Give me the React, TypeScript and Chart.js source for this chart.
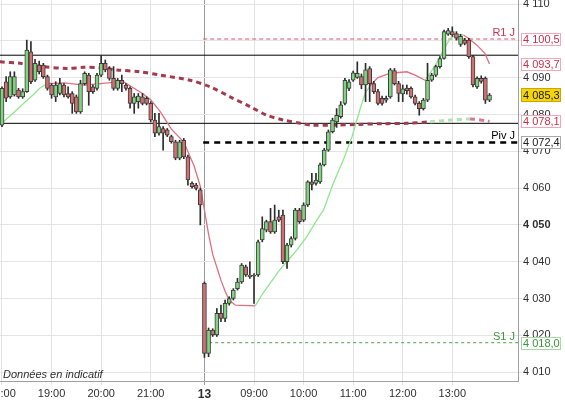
import React, { useEffect, useRef } from 'react';
import { Chart, registerables } from 'chart.js';

Chart.register(...registerables);

// ---- Candles (5-minute bars, index 0 = 18:00 on day 12, index 49 = 08:00 on day 13) ----
const opens = [
  4077.1, 4088.9, 4084.8, 4085.3, 4086.6, 4084.8, 4086.2, 4097.0, 4089.3, 4093.4,
  4093.4, 4090.3, 4088.0, 4084.8, 4085.7, 4088.0, 4085.7, 4085.7, 4084.8, 4080.7,
  4088.4, 4090.7, 4087.5, 4087.1, 4090.7, 4093.9, 4092.5, 4089.8, 4087.1, 4089.3,
  4088.0, 4087.1, 4083.0, 4083.5, 4084.8, 4084.4, 4083.0, 4078.5, 4074.9, 4076.2,
  4075.8, 4074.0, 4072.6, 4068.1, 4073.0, 4068.5, 4061.3, 4060.8, 4059.5, 4034.1,
  4015.1, 4021.4, 4020.1, 4026.0, 4024.6, 4028.7, 4030.0, 4032.7, 4034.5, 4038.6,
  4035.9, 4036.4, 4036.4, 4045.9, 4048.6, 4050.9, 4048.1, 4052.2, 4052.7, 4040.0,
  4044.5, 4046.3, 4054.0, 4051.3, 4055.4, 4061.7, 4061.3, 4061.7, 4066.3, 4070.3,
  4075.3, 4078.0, 4079.4, 4083.0, 4087.1, 4089.3, 4090.1, 4090.3, 4088.0, 4092.5,
  4088.4, 4086.2, 4084.4, 4083.9, 4084.8, 4091.9, 4088.4, 4085.6, 4087.2, 4087.1,
  4084.8, 4083.0, 4081.6, 4083.9, 4089.3, 4090.7, 4093.0, 4095.2, 4101.8, 4102.5,
  4102.0, 4099.0, 4100.2, 4100.2, 4095.7, 4087.5, 4089.8, 4089.8, 4083.9,
];
const highs = [
  4087.5, 4090.3, 4091.6, 4091.6, 4087.1, 4087.0, 4100.2, 4099.8, 4095.0, 4094.5,
  4093.9, 4090.7, 4088.4, 4088.9, 4089.8, 4088.4, 4087.5, 4086.2, 4085.3, 4089.3,
  4091.6, 4091.2, 4088.0, 4091.2, 4096.1, 4094.8, 4093.0, 4093.0, 4089.8, 4090.7,
  4088.4, 4087.5, 4085.7, 4085.7, 4085.7, 4084.8, 4083.5, 4080.3, 4080.3, 4076.7,
  4076.2, 4074.4, 4073.0, 4073.0, 4073.5, 4069.0, 4061.7, 4061.3, 4060.0, 4034.5,
  4022.0, 4021.8, 4027.3, 4028.2, 4029.6, 4030.5, 4032.7, 4035.5, 4039.5, 4039.1,
  4040.0, 4036.8, 4045.9, 4052.2, 4051.3, 4054.5, 4055.4, 4054.0, 4054.0, 4045.0,
  4046.8, 4054.5, 4054.5, 4056.0, 4062.0, 4064.0, 4064.0, 4066.8, 4070.8, 4075.8,
  4079.0, 4081.6, 4083.5, 4089.8, 4089.5, 4091.8, 4094.3, 4091.0, 4093.9, 4093.0,
  4089.0, 4086.8, 4085.0, 4085.0, 4092.5, 4092.5, 4089.0, 4088.0, 4088.0, 4087.5,
  4085.3, 4083.5, 4084.4, 4093.9, 4091.2, 4093.4, 4095.7, 4102.9, 4103.4, 4103.8,
  4102.5, 4101.8, 4100.7, 4100.7, 4096.1, 4090.2, 4090.5, 4090.2, 4085.7,
];
const lows = [
  4076.7, 4083.5, 4084.4, 4085.0, 4084.4, 4084.4, 4086.0, 4088.4, 4089.0, 4091.0,
  4089.8, 4086.6, 4084.4, 4083.5, 4085.3, 4084.8, 4084.4, 4080.3, 4080.3, 4080.3,
  4088.0, 4082.5, 4085.7, 4086.6, 4090.3, 4091.6, 4089.3, 4086.6, 4086.6, 4086.2,
  4086.6, 4081.7, 4080.3, 4081.7, 4082.6, 4082.6, 4078.0, 4074.0, 4074.4, 4070.3,
  4074.0, 4072.2, 4067.7, 4067.7, 4068.0, 4060.8, 4060.0, 4059.5, 4050.0, 4014.0,
  4014.2, 4019.7, 4019.7, 4023.7, 4023.7, 4028.2, 4029.6, 4032.3, 4034.1, 4036.0,
  4035.5, 4028.7, 4036.0, 4045.4, 4048.1, 4047.7, 4047.7, 4050.9, 4039.5, 4038.2,
  4044.0, 4045.9, 4050.4, 4050.9, 4055.0, 4059.5, 4060.8, 4061.3, 4066.0, 4070.0,
  4075.0, 4076.5, 4079.0, 4082.6, 4086.5, 4089.0, 4089.8, 4087.0, 4083.5, 4083.5,
  4085.7, 4082.6, 4082.5, 4083.3, 4084.4, 4088.0, 4083.5, 4083.5, 4085.5, 4084.4,
  4082.6, 4079.8, 4081.2, 4083.5, 4089.0, 4090.3, 4092.6, 4095.0, 4101.5, 4101.2,
  4100.2, 4098.5, 4098.9, 4095.2, 4087.5, 4087.1, 4088.5, 4083.0, 4083.5,
];
const closes = [
  4087.1, 4084.4, 4090.3, 4090.3, 4084.8, 4086.2, 4097.5, 4088.9, 4093.9, 4091.6,
  4090.3, 4087.1, 4085.3, 4088.0, 4088.4, 4085.3, 4084.8, 4083.0, 4080.7, 4088.4,
  4091.2, 4086.2, 4086.2, 4090.7, 4093.9, 4092.1, 4089.8, 4087.1, 4089.3, 4088.4,
  4087.1, 4083.0, 4084.8, 4085.0, 4083.0, 4083.0, 4078.5, 4074.9, 4076.7, 4074.9,
  4074.4, 4072.6, 4068.1, 4072.6, 4068.5, 4062.2, 4060.4, 4059.9, 4055.4, 4015.1,
  4021.4, 4020.1, 4026.0, 4024.6, 4028.7, 4030.0, 4032.3, 4034.5, 4039.1, 4036.4,
  4036.4, 4036.1, 4045.4, 4049.0, 4050.9, 4048.1, 4051.3, 4051.3, 4040.0, 4044.5,
  4046.3, 4054.0, 4050.9, 4055.4, 4061.7, 4061.0, 4062.2, 4066.3, 4070.3, 4075.3,
  4078.5, 4079.8, 4082.6, 4089.3, 4088.9, 4091.3, 4091.2, 4088.0, 4092.1, 4088.4,
  4086.2, 4083.0, 4083.0, 4084.4, 4092.1, 4088.4, 4085.7, 4087.0, 4086.5, 4084.8,
  4083.0, 4081.6, 4083.9, 4089.3, 4090.7, 4093.0, 4095.2, 4102.5, 4102.8, 4101.6,
  4100.7, 4101.2, 4099.3, 4095.7, 4088.0, 4089.8, 4089.0, 4083.9, 4085.3,
];

// ---- Axis ticks ----
const xTickPos = [0, 12, 24, 36, 49, 61, 73, 85, 97, 109];
const xTickLabels = ['18:00', '19:00', '20:00', '21:00', '13', '09:00', '10:00', '11:00', '12:00', '13:00'];
const yTicks = [4010, 4020, 4030, 4040, 4050, 4060, 4070, 4080, 4090, 4100, 4110];

// ---- Fast moving average (thin, green under price / red above) ----
const fastMaX = [
  0, 3, 5.6, 7.5, 9.2, 11, 15, 20, 25, 29.4, 34, 36, 38.3, 41, 44, 46.5, 48, 49, 50, 51,
  52, 53, 54, 55, 56.5, 61.3, 62.9, 64.9, 66.9, 68.6, 71.4, 73.8, 76.2, 77.8, 80.2, 82.6,
  84.7, 85.9, 87.1, 87.9, 89.1, 91, 94, 98, 100, 102.4, 104.4, 106.1, 107.3, 108.5, 110.1,
  111.7, 112.9, 114.9, 116.9, 118,
];
const fastMaY = [
  4077.7, 4080.7, 4083.4, 4085.3, 4087.2, 4088.4, 4088.6, 4088.0, 4088.5, 4088.9, 4085.7,
  4084.0, 4080.8, 4076.0, 4072.5, 4066.0, 4060.5, 4054.0, 4047.5, 4042.0, 4038.5, 4035.0,
  4032.0, 4029.6, 4028.2, 4028.0, 4031.0, 4034.1, 4037.3, 4039.6, 4043.2, 4046.8, 4051.3,
  4054.0, 4061.3, 4067.6, 4073.9, 4078.5, 4083.0, 4085.7, 4087.8, 4090.0, 4091.2, 4091.6,
  4090.7, 4089.3, 4092.5, 4095.7, 4098.4, 4100.7, 4101.6, 4101.6, 4100.7, 4098.9, 4096.6,
  4093.7,
];
const fastMaRedRanges = [[11, 61.3], [89.1, 102.4], [111.7, 119]];

// ---- Slow moving average (thick dashed) ----
const slowMaX = [
  -0.5, 4.4, 10, 15.7, 19.7, 23.7, 27.8, 33.4, 38.3, 45.5, 50.4, 55.2, 60.1, 64.1, 68.1,
  72.2, 75, 80, 86, 92, 98, 103.6, 108.5, 113.3, 117.3, 118,
];
const slowMaY = [
  4094.3, 4093.9, 4093.0, 4092.5, 4092.8, 4092.7, 4092.1, 4091.6, 4090.7, 4089.3, 4087.5,
  4084.8, 4082.1, 4079.8, 4078.5, 4077.6, 4077.1, 4077.1, 4077.3, 4077.5, 4077.6, 4078.0,
  4078.5, 4078.8, 4078.3, 4078.1,
];
const slowMaGreenRange = [101, 112.5];

// ---- Levels ----
const channelHigh = 4096.1;
const channelLow = 4077.6;
const levelStart = 48.7;
const levelNames = ['R1 J', 'Piv J', 'S1 J'];
const levelValues = [4100.5, 4072.4, 4018.0];

// ---- Value tags on the price axis ----
const tagValues = [4100.5, 4093.7, 4085.3, 4078.1, 4072.4, 4018.0];
const tagKinds = ['r1', 'ma', 'last', 'ma', 'piv', 's1'];

const FONT = '"Liberation Sans", Arial, Helvetica, sans-serif';
const X_MIN = -0.484;
const X_MAX = 124.9;

const fmtNum = (v: number, d: number) =>
  v.toFixed(d).replace('.', ',').replace(/^(\d)(\d{3})/, '$1 $2');

const tagStyle: Record<string, { text: string; border: string; bg: string }> = {
  r1: { text: '#c8304a', border: '#f0a8b8', bg: '#ffffff' },
  ma: { text: '#c8304a', border: '#f0a8b8', bg: '#ffffff' },
  last: { text: '#202020', border: '#c8a800', bg: '#f6d40a' },
  piv: { text: '#202020', border: '#a8a8a8', bg: '#ffffff' },
  s1: { text: '#3a963a', border: '#a8d8a8', bg: '#ffffff' },
};
const levelColors = ['#d0304c', '#000000', '#3a9a3a'];

const overlayPlugin = {
  id: 'overlay',
  afterDatasetsDraw(chart: any) {
    const { ctx, scales } = chart;
    const y = scales.y;
    ctx.save();
    ctx.font = `11px ${FONT}`;
    ctx.textAlign = 'right';
    ctx.textBaseline = 'alphabetic';
    levelNames.forEach((name, i) => {
      const py = y.getPixelForValue(levelValues[i]);
      ctx.fillStyle = levelColors[i];
      ctx.fillText(name, 515, py - 3);
    });
    ctx.restore();
  },
  afterDraw(chart: any) {
    const { ctx, scales } = chart;
    const y = scales.y;
    ctx.save();
    ctx.font = `11px ${FONT}`;
    ctx.textAlign = 'left';
    ctx.textBaseline = 'middle';
    tagValues.forEach((v, i) => {
      const st = tagStyle[tagKinds[i]];
      const py = Math.round(y.getPixelForValue(v));
      const h = tagKinds[i] === 'last' ? 14 : 13;
      const top = py - Math.floor(h / 2);
      ctx.fillStyle = st.bg;
      ctx.fillRect(521, top, 40, h);
      ctx.strokeStyle = st.border;
      ctx.lineWidth = 1;
      ctx.strokeRect(521.5, top + 0.5, 39, h - 1);
      ctx.fillStyle = st.text;
      ctx.fillText(fmtNum(v, 1), 523, py + 1);
    });
    ctx.font = `italic 11px ${FONT}`;
    ctx.fillStyle = '#303030';
    ctx.textBaseline = 'alphabetic';
    ctx.fillText('Données en indicatif', 3, 378);
    ctx.restore();
  },
};

const inRanges = (x: number, ranges: number[][]) => ranges.some(([a, b]) => x >= a && x < b);

export default function App() {
  const canvasRef = useRef<HTMLCanvasElement | null>(null);

  useEffect(() => {
    document.body.style.margin = '0';
    const canvas = canvasRef.current;
    if (!canvas) return;

    const bodyColors = opens.map((o, i) => (closes[i] >= o ? '#80d480' : '#d07070'));

    const hLine = (from: number, value: number) => [
      { x: from, y: value },
      { x: X_MAX + 1, y: value },
    ];

    const chart = new Chart(canvas, {
      type: 'bar',
      data: {
        datasets: [
          {
            type: 'bar',
            label: 'body',
            data: opens.map((o, i) => ({ x: i, y: [o, closes[i]] })) as any,
            backgroundColor: bodyColors,
            borderColor: '#3c3c3c',
            borderWidth: 1,
            borderSkipped: false,
            barThickness: 4,
            minBarLength: 1,
            grouped: false,
            order: 0,
          } as any,
          {
            type: 'bar',
            label: 'wick',
            data: lows.map((l, i) => ({ x: i, y: [l, highs[i]] })) as any,
            backgroundColor: '#2c2c2c',
            borderWidth: 0,
            barThickness: 1,
            grouped: false,
            order: 1,
          } as any,
          {
            type: 'line',
            label: 'fastMa',
            data: fastMaX.map((x, i) => ({ x, y: fastMaY[i] })),
            borderColor: '#8ee88e',
            borderWidth: 1.3,
            pointRadius: 0,
            tension: 0,
            segment: {
              borderColor: (ctx: any) =>
                inRanges(ctx.p0.parsed.x, fastMaRedRanges) ? '#e07080' : '#8ee88e',
            },
            order: 2,
          } as any,
          {
            type: 'line',
            label: 'slowMa',
            data: slowMaX.map((x, i) => ({ x, y: slowMaY[i] })),
            borderColor: '#a33a50',
            borderWidth: 3,
            borderDash: [5, 4],
            pointRadius: 0,
            tension: 0.3,
            segment: {
              borderColor: (ctx: any) => {
                const x = ctx.p0.parsed.x;
                if (x >= slowMaGreenRange[0] && x < slowMaGreenRange[1]) return '#b0e4b0';
                if (x >= slowMaGreenRange[1]) return '#d87890';
                return '#a33a50';
              },
            },
            order: 3,
          } as any,
          {
            type: 'line',
            label: 'chanHigh',
            data: hLine(X_MIN - 1, channelHigh),
            borderColor: '#000000',
            borderWidth: 1,
            pointRadius: 0,
            order: 4,
          } as any,
          {
            type: 'line',
            label: 'chanLow',
            data: hLine(X_MIN - 1, channelLow),
            borderColor: '#000000',
            borderWidth: 1,
            pointRadius: 0,
            order: 4,
          } as any,
          {
            type: 'line',
            label: 'R1',
            data: hLine(levelStart, levelValues[0]),
            borderColor: '#e05068',
            borderWidth: 1,
            borderDash: [4, 3],
            pointRadius: 0,
            order: 4,
          } as any,
          {
            type: 'line',
            label: 'Piv',
            data: hLine(levelStart, levelValues[1]),
            borderColor: '#000000',
            borderWidth: 2.5,
            borderDash: [6, 5],
            pointRadius: 0,
            order: 4,
          } as any,
          {
            type: 'line',
            label: 'S1',
            data: hLine(levelStart, levelValues[2]),
            borderColor: '#4aa04a',
            borderWidth: 1,
            borderDash: [3, 3],
            pointRadius: 0,
            order: 4,
          } as any,
        ],
      },
      options: {
        responsive: false,
        animation: false,
        layout: { padding: 0 },
        plugins: {
          legend: { display: false },
          tooltip: { enabled: false },
        },
        scales: {
          x: {
            type: 'linear',
            position: 'bottom',
            offset: false,
            min: X_MIN,
            max: X_MAX,
            afterBuildTicks: (s: any) => {
              s.ticks = xTickPos.map((v) => ({ value: v }));
            },
            afterFit: (s: any) => {
              s.height = 24;
              s.paddingLeft = 0;
              s.paddingRight = 0;
            },
            ticks: {
              autoSkip: false,
              maxRotation: 0,
              minRotation: 0,
              padding: 2,
              color: '#303030',
              font: (ctx: any) => ({
                family: FONT,
                size: ctx.tick && ctx.tick.value === 49 ? 12 : 11,
                weight: ctx.tick && ctx.tick.value === 49 ? 'bold' : 'normal',
              }),
              callback: (v: any) => {
                const k = xTickPos.indexOf(Number(v));
                return k >= 0 ? xTickLabels[k] : '';
              },
            },
            grid: {
              offset: false,
              color: (ctx: any) => (ctx.tick && ctx.tick.value === 49 ? '#9a9a9a' : '#e2e2e2'),
              tickLength: 4,
            },
            border: { color: '#a0a0a0' },
          } as any,
          y: {
            type: 'linear',
            position: 'right',
            min: 4007.6,
            max: 4111.1,
            afterBuildTicks: (s: any) => {
              s.ticks = yTicks.map((v) => ({ value: v }));
            },
            afterFit: (s: any) => {
              s.width = 47;
              s.paddingTop = 0;
              s.paddingBottom = 0;
            },
            ticks: {
              padding: 1,
              color: '#303030',
              font: (ctx: any) => ({
                family: FONT,
                size: 11,
                weight: ctx.tick && ctx.tick.value === 4050 ? 'bold' : 'normal',
              }),
              callback: (v: any) => fmtNum(Number(v), 0),
            },
            grid: {
              color: '#e4e4e4',
              tickLength: 4,
            },
            border: { color: '#a0a0a0' },
          } as any,
        },
      },
      plugins: [overlayPlugin],
    });

    return () => chart.destroy();
  }, []);

  return (
    <div style={{ width: 565, height: 405, background: '#ffffff' }}>
      <canvas ref={canvasRef} width={565} height={405} style={{ display: 'block' }} />
    </div>
  );
}
